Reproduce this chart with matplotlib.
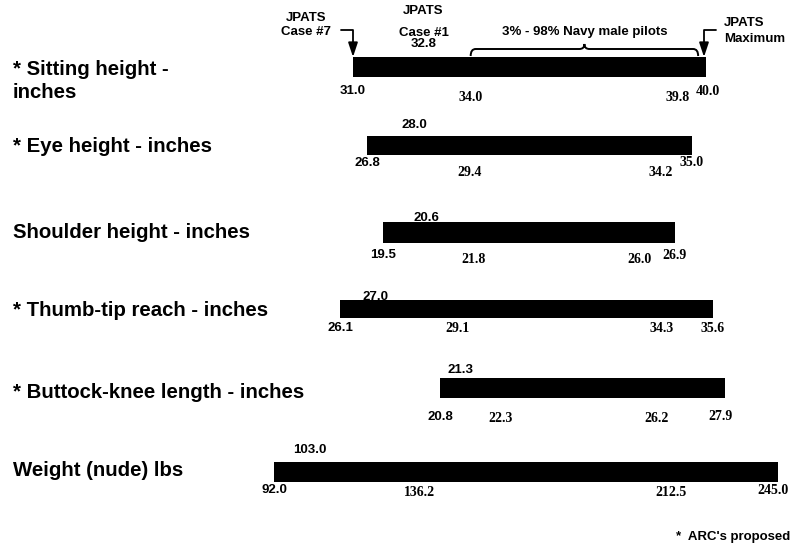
import matplotlib
matplotlib.use('Agg')
import matplotlib.pyplot as plt
from matplotlib.path import Path
from matplotlib.patches import PathPatch

# ---- data ----
rows = ['* Sitting height -\ninches', '* Eye height - inches', 'Shoulder height - inches',
        '* Thumb-tip reach - inches', '* Buttock-knee length - inches', 'Weight (nude) lbs']
jpats_min = [31.0, 26.8, 19.5, 26.1, 20.8, 92.0]      # JPATS case #7
jpats_max = [40.0, 35.0, 26.9, 35.6, 27.9, 245.0]     # JPATS maximum
case1 = [32.8, 28.0, 20.6, 27.0, 21.3, 103.0]         # JPATS case #1
pct3 = [34.0, 29.4, 21.8, 29.1, 22.3, 136.2]          # 3% navy male pilots
pct98 = [39.8, 34.2, 26.0, 34.3, 26.2, 212.5]         # 98% navy male pilots

# ---- layout (pixels on the 792x552 canvas) ----
W, H = 792, 552
bar_x0 = [353, 367, 383, 340, 440, 274]
bar_x1 = [706, 692, 675, 713, 725, 778]
bar_top = [57, 136, 222, 300, 378, 462]
bar_h = [20, 19, 21, 18, 20, 20]
name_y = [81, 147, 232, 311, 392, 470]
top_gap = [13, 11, 4, 3, 8, 12]
end_gap = [14, 8, 12, 10, 19, 8]
mid_gap = [20, 17, 16, 11, 21, 10]
end_dx = [2, 0, 0, 0, -4, -5]

sans = dict(family='Liberation Sans', weight='bold', fontsize=9.5)
serif = dict(family='Liberation Serif', weight='bold', fontsize=10)

fig = plt.figure(figsize=(W / 100, H / 100), dpi=100)
fig.patch.set_facecolor('white')

for i in range(len(rows)):
    lo, hi, h = jpats_min[i], jpats_max[i], bar_h[i]
    ax = fig.add_axes([bar_x0[i] / W, 1 - (bar_top[i] + h) / H,
                       (bar_x1[i] - bar_x0[i]) / W, h / H])
    ax.set_xlim(lo, hi)
    ax.set_ylim(-h / 2, h / 2)   # y units are pixels around the bar centre
    ax.axis('off')
    px = (hi - lo) / (bar_x1[i] - bar_x0[i])   # data units per pixel

    ax.barh(0, hi - lo, left=lo, height=h, color='black', zorder=1)

    # value labels
    ax.text(case1[i], h / 2 + top_gap[i], f'{case1[i]:.1f}', ha='center', va='center', zorder=3, **sans)
    ax.text(lo, -h / 2 - end_gap[i], f'{lo:.1f}', ha='center', va='center', **sans)
    ax.text(hi + end_dx[i] * px, -h / 2 - end_gap[i], f'{hi:.1f}', ha='center', va='center', **serif)
    ax.text(pct3[i], -h / 2 - mid_gap[i], f'{pct3[i]:.1f}', ha='center', va='center', **serif)
    if (hi - pct98[i]) / px < 30:
        ax.text(pct98[i] - 8 * px, -h / 2 - mid_gap[i], f'{pct98[i]:.1f}', ha='right', va='center', **serif)
    else:
        ax.text(pct98[i], -h / 2 - mid_gap[i], f'{pct98[i]:.1f}', ha='center', va='center', **serif)

    fig.text(13 / W, 1 - name_y[i] / H, rows[i], ha='left', va='center',
             family='Liberation Sans', weight='bold', fontsize=14.7, linespacing=1.25)

    if i == 0:
        # JPATS annotations on the first row
        ax.text(case1[i], h / 2 + 24, 'Case #1', ha='center', va='center', **sans)
        ax.text(case1[i], h / 2 + 46, 'JPATS', ha='center', va='center', **sans)
        arrow = dict(arrowstyle='-|>,head_length=0.9,head_width=0.3', color='black', lw=1.3,
                     connectionstyle='angle,angleA=0,angleB=90,rad=0', shrinkB=0)
        ax.annotate('JPATS\nCase #7', xy=(lo, h / 2), xytext=(lo - 22 * px, h / 2 + 32),
                    ha='right', va='center', multialignment='center', linespacing=1.25,
                    arrowprops=dict(arrow, relpos=(1, 0.3), shrinkA=5), **sans)
        ax.annotate('JPATS\nMaximum', xy=(hi - 2 * px, h / 2), xytext=(hi + 18 * px, h / 2 + 26),
                    ha='left', va='center', multialignment='left', linespacing=1.36,
                    arrowprops=dict(arrow, relpos=(0, 0.55), shrinkA=4), **sans)

        # brace over the 3% - 98% range
        xa, xb = pct3[i], pct98[i]
        xm = (xa + xb) / 2
        r = 5 * px
        yb, yl, yp = h / 2 + 1, h / 2 + 8, h / 2 + 13
        verts = [(xa, yb), (xa, yl), (xa + r, yl), (xm - r, yl), (xm, yl), (xm, yp),
                 (xm, yl), (xm + r, yl), (xb - r, yl), (xb, yl), (xb, yb)]
        codes = [Path.MOVETO, Path.CURVE3, Path.CURVE3, Path.LINETO, Path.CURVE3, Path.CURVE3,
                 Path.CURVE3, Path.CURVE3, Path.LINETO, Path.CURVE3, Path.CURVE3]
        ax.add_patch(PathPatch(Path(verts, codes), fill=False, lw=1.4, ec='black', clip_on=False))
        ax.text(xm, h / 2 + 25, '3% - 98% Navy male pilots', ha='center', va='center', **sans)

fig.text(790 / W, 1 - 537 / H, "*  ARC's proposed", ha='right', va='center', **sans)

fig.savefig('out.png', dpi=100)
